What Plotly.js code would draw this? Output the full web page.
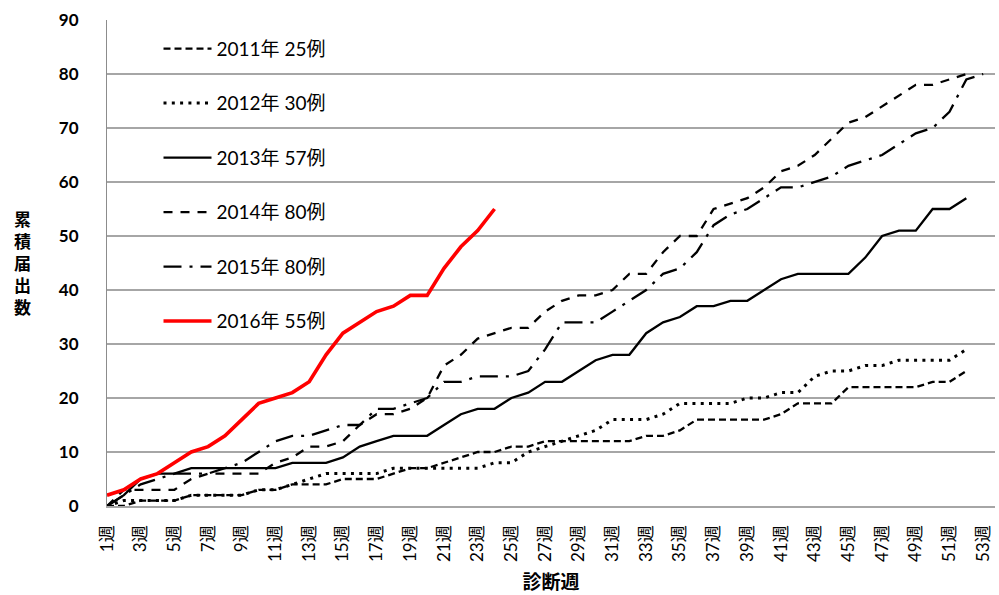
<!DOCTYPE html>
<html>
<head>
<meta charset="utf-8">
<script src="https://cdn.plot.ly/plotly-3.0.1.min.js"></script>
<style>html,body{margin:0;padding:0;background:#fff;}#chart{width:999px;height:595px;}</style>
</head>
<body>
<div id="chart"></div>
<script>
// Categories (diagnosis weeks)
const weekLabels = ["1週","2週","3週","4週","5週","6週","7週","8週","9週","10週",
  "11週","12週","13週","14週","15週","16週","17週","18週","19週","20週",
  "21週","22週","23週","24週","25週","26週","27週","28週","29週","30週",
  "31週","32週","33週","34週","35週","36週","37週","38週","39週","40週",
  "41週","42週","43週","44週","45週","46週","47週","48週","49週","50週",
  "51週","52週","53週"];
const tickLabels = ["1週","3週","5週","7週","9週","11週","13週","15週","17週","19週",
  "21週","23週","25週","27週","29週","31週","33週","35週","37週","39週",
  "41週","43週","45週","47週","49週","51週","53週"];
const yTicks = [0,10,20,30,40,50,60,70,80,90];

// Cumulative reports per year
const y2011 = [0,0,1,1,1,2,2,2,2,3, 3,4,4,4,5,5,5,6,7,7, 8,9,10,10,11,11,12,12,12,12,
  12,12,13,13,14,16,16,16,16,16, 17,19,19,19,22,22,22,22,22,23, 23,25];
const y2012 = [0,1,1,1,1,2,2,2,2,3, 3,4,5,6,6,6,6,7,7,7, 7,7,7,8,8,10,11,12,13,14,
  16,16,16,17,19,19,19,19,20,20, 21,21,24,25,25,26,26,27,27,27, 27,29];
const y2013 = [0,2,5,6,6,7,7,7,7,7, 7,8,8,8,9,11,12,13,13,13, 15,17,18,18,20,21,23,23,25,27,
  28,28,32,34,35,37,37,38,38,40, 42,43,43,43,43,46,50,51,51,55, 55,57];
const y2014 = [0,3,3,3,3,5,6,6,6,6, 8,9,11,11,12,15,17,17,18,20, 26,28,31,32,33,33,36,38,39,39,
  40,43,43,47,50,50,55,56,57,59, 62,63,65,68,71,72,74,76,78,78, 79,80];
const y2015 = [0,2,4,5,6,6,6,7,8,10, 12,13,13,14,15,15,18,18,19,20, 23,23,24,24,24,25,29,34,34,34,
  36,38,40,43,44,47,52,54,55,57, 59,59,60,61,63,64,65,67,69,70, 73,79,80];
const y2016 = [2,3,5,6,8,10,11,13,16,19, 20,21,23,28,32,34,36,37,39,39, 44,48,51,55];

const seriesNames = ["2011年 25例","2012年 30例","2013年 57例","2014年 80例","2015年 80例","2016年 55例"];
const seriesData = [y2011, y2012, y2013, y2014, y2015, y2016];
const seriesStyle = [
  {color:'#000000', width:2.3, dash:'7px,4px'},
  {color:'#000000', width:3, dash:'3px,5.3px'},
  {color:'#000000', width:2.3, dash:'solid'},
  {color:'#000000', width:2.3, dash:'9px,8px'},
  {color:'#000000', width:2.3, dash:'18px,8px,3px,8px'},
  {color:'#FF0000', width:3.6, dash:'solid'}
];

const FONT = "Lato, 'Noto Sans CJK JP', sans-serif";

const traces = seriesData.map((vals, i) => ({
  type: 'scatter',
  mode: 'lines',
  name: seriesNames[i],
  legendgroup: 'g' + i,
  x: weekLabels.slice(0, vals.length),
  y: vals,
  line: {color: seriesStyle[i].color, width: seriesStyle[i].width, dash: seriesStyle[i].dash},
  hoverinfo: 'skip'
}));

const layout = {
  width: 999, height: 595,
  margin: {l: 107, r: 4, t: 20, b: 89},
  paper_bgcolor: '#ffffff', plot_bgcolor: '#ffffff',
  font: {family: FONT, color: '#000000'},
  showlegend: true,
  xaxis: {
    type: 'category',
    categoryorder: 'array', categoryarray: weekLabels,
    range: [0, 52.7],
    tickmode: 'array', tickvals: tickLabels, ticktext: tickLabels,
    tickangle: -90,
    tickfont: {size: 17, color: '#000000'},
    ticks: '', ticklabelstandoff: 11,
    showgrid: false, zeroline: false,
    showline: true, linecolor: '#A6A6A6', linewidth: 1.5,
    title: {text: '診断週', font: {size: 19, weight: 'bold'}, standoff: 14},
    automargin: false, fixedrange: true
  },
  yaxis: {
    range: [0, 90],
    tickmode: 'array', tickvals: yTicks,
    tickfont: {size: 17, weight: 'bold', color: '#000000'},
    ticks: '', ticklabelstandoff: 24,
    showgrid: true, gridcolor: '#A6A6A6', gridwidth: 1.5,
    zeroline: false,
    showline: true, linecolor: '#8C8C8C', linewidth: 1,
    automargin: false, fixedrange: true
  },
  legend: {
    x: 0.058, y: 0.98, xanchor: 'left', yanchor: 'top',
    bgcolor: 'rgba(0,0,0,0)', borderwidth: 0,
    font: {size: 19, color: '#000000'},
    tracegroupgap: 26.8, itemwidth: 48, traceorder: 'grouped'
  },
  annotations: [{
    xref: 'paper', yref: 'paper', x: -0.095, y: 0.5,
    xanchor: 'center', yanchor: 'middle',
    text: '累<br>積<br>届<br>出<br>数',
    showarrow: false,
    font: {size: 17, weight: 'bold', color: '#000000'}
  }]
};

Plotly.newPlot('chart', traces, layout, {displayModeBar: false, staticPlot: true});
</script>
</body>
</html>
